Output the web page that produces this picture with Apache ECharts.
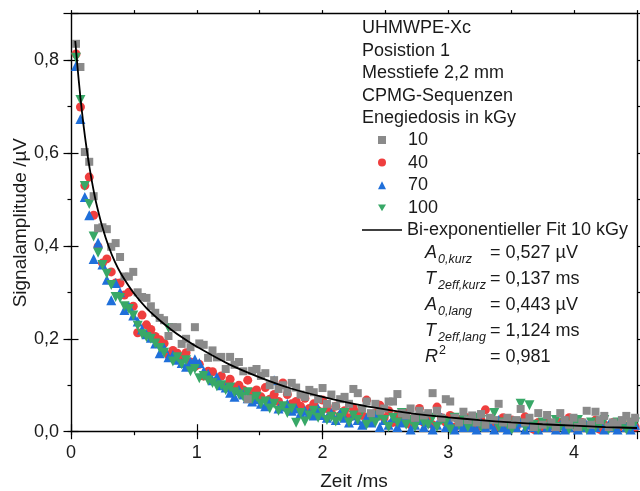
<!DOCTYPE html>
<html lang="de">
<head>
<meta charset="UTF-8">
<title>UHMWPE-Xc CPMG Signalamplitude</title>
<script src="https://cdn.jsdelivr.net/npm/echarts@6/dist/echarts.min.js"></script>
<style>
  html, body { margin: 0; padding: 0; background: #fff; }
  #main { width: 640px; height: 491px; }
</style>
</head>
<body>
<div id="main"></div>
<script>
// Echozeiten /ms (gemeinsam fuer alle Proben)
const zeit = [
  0.04, 0.075, 0.11, 0.145, 0.18, 0.215, 0.25, 0.285, 0.32, 0.355,
  0.39, 0.425, 0.46, 0.495, 0.53, 0.565, 0.6, 0.635, 0.67, 0.705,
  0.74, 0.775, 0.81, 0.845, 0.88, 0.915, 0.95, 0.985, 1.02, 1.055,
  1.09, 1.125, 1.16, 1.195, 1.23, 1.265, 1.3, 1.335, 1.37, 1.405,
  1.44, 1.475, 1.51, 1.545, 1.58, 1.615, 1.65, 1.685, 1.72, 1.755,
  1.79, 1.825, 1.86, 1.895, 1.93, 1.965, 2.0, 2.035, 2.07, 2.105,
  2.14, 2.175, 2.21, 2.245, 2.28, 2.315, 2.35, 2.385, 2.42, 2.455,
  2.49, 2.525, 2.56, 2.595, 2.63, 2.665, 2.7, 2.735, 2.77, 2.805,
  2.84, 2.875, 2.91, 2.945, 2.98, 3.015, 3.05, 3.085, 3.12, 3.155,
  3.19, 3.225, 3.26, 3.295, 3.33, 3.365, 3.4, 3.435, 3.47, 3.505,
  3.54, 3.575, 3.61, 3.645, 3.68, 3.715, 3.75, 3.785, 3.82, 3.855,
  3.89, 3.925, 3.96, 3.995, 4.03, 4.065, 4.1, 4.135, 4.17, 4.205,
  4.24, 4.275, 4.31, 4.345, 4.38, 4.415, 4.45, 4.485
];

// Signalamplitude /µV je Energiedosis
const dosis10 = [
  0.835, 0.785, 0.602, 0.581, 0.507, 0.438, 0.440, 0.436, 0.398, 0.406,
  0.376, 0.334, 0.334, 0.344, 0.300, 0.290, 0.288, 0.270, 0.256, 0.245,
  0.240, 0.206, 0.225, 0.225, 0.189, 0.200, 0.182, 0.225, 0.190, 0.187,
  0.159, 0.175, 0.160, 0.161, 0.135, 0.161, 0.144, 0.150, 0.130, 0.070,
  0.131, 0.135, 0.120, 0.126, 0.100, 0.111, 0.092, 0.100, 0.085, 0.105,
  0.095, 0.080, 0.075, 0.090, 0.085, 0.070, 0.094, 0.060, 0.080, 0.055,
  0.070, 0.075, 0.060, 0.092, 0.083, 0.050, 0.065, 0.040, 0.060, 0.045,
  0.050, 0.065, 0.065, 0.081, 0.040, 0.035, 0.050, 0.030, 0.045, 0.035,
  0.040, 0.083, 0.045, 0.030, 0.070, 0.065, 0.030, 0.020, 0.043, 0.025,
  0.035, 0.020, 0.038, 0.015, 0.030, 0.025, 0.060, 0.020, 0.030, 0.015,
  0.025, 0.049, 0.020, 0.030, 0.010, 0.040, 0.015, 0.036, 0.020, 0.010,
  0.040, 0.025, 0.015, 0.030, 0.010, 0.020, 0.045, 0.015, 0.043, 0.025,
  0.034, 0.010, 0.020, 0.015, 0.025, 0.034, 0.020, 0.030
];
const dosis40 = [
  0.813, 0.699, 0.530, 0.548, 0.466, 0.398, 0.363, 0.372, 0.344, 0.320,
  0.320, 0.294, 0.300, 0.270, 0.213, 0.251, 0.230, 0.220, 0.205, 0.198,
  0.190, 0.165, 0.175, 0.169, 0.160, 0.170, 0.150, 0.140, 0.145, 0.120,
  0.130, 0.129, 0.110, 0.120, 0.100, 0.113, 0.095, 0.100, 0.090, 0.111,
  0.085, 0.090, 0.075, 0.095, 0.070, 0.080, 0.065, 0.105, 0.080, 0.060,
  0.065, 0.055, 0.072, 0.050, 0.060, 0.045, 0.068, 0.050, 0.040, 0.055,
  0.035, 0.045, 0.030, 0.050, 0.040, 0.035, 0.068, 0.025, 0.040, 0.057,
  0.030, 0.045, 0.020, 0.035, 0.025, 0.040, 0.015, 0.030, 0.050, 0.020,
  0.025, 0.015, 0.053, 0.030, 0.020, 0.035, 0.010, 0.025, 0.015, 0.030,
  0.020, 0.010, 0.025, 0.047, 0.015, 0.020, 0.010, 0.030, 0.015, 0.025,
  0.010, 0.020, 0.032, 0.015, 0.005, 0.020, 0.010, 0.025, 0.015, 0.005,
  0.020, 0.010, 0.030, 0.015, 0.005, 0.020, 0.010, 0.015, 0.025, 0.005,
  0.015, 0.010, 0.020, 0.005, 0.015, 0.010, 0.020, 0.010
];
const dosis70 = [
  0.787, 0.673, 0.505, 0.466, 0.372, 0.407, 0.360, 0.327, 0.283, 0.320,
  0.300, 0.262, 0.270, 0.250, 0.237, 0.220, 0.210, 0.202, 0.190, 0.169,
  0.180, 0.160, 0.165, 0.155, 0.148, 0.140, 0.150, 0.156, 0.148, 0.130,
  0.125, 0.111, 0.118, 0.100, 0.095, 0.084, 0.075, 0.090, 0.080, 0.072,
  0.065, 0.070, 0.060, 0.055, 0.065, 0.111, 0.050, 0.054, 0.060, 0.045,
  0.050, 0.040, 0.045, 0.041, 0.035, 0.050, 0.036, 0.030, 0.040, 0.025,
  0.041, 0.030, 0.020, 0.035, 0.025, 0.015, 0.030, 0.020, 0.035, 0.010,
  0.025, 0.015, 0.030, 0.010, 0.020, 0.035, 0.005, 0.015, 0.025, 0.010,
  0.020, 0.005, 0.015, 0.030, 0.010, 0.020, 0.005, 0.015, 0.010, 0.025,
  0.010, 0.005, 0.020, 0.010, 0.015, 0.005, 0.025, 0.010, 0.005, 0.015,
  0.010, 0.020, 0.005, 0.015, 0.010, 0.005, 0.020, 0.010, 0.015, 0.005,
  0.015, 0.005, 0.010, 0.020, 0.005, 0.010, 0.015, 0.005, 0.010, 0.020,
  0.005, 0.015, 0.010, 0.005, 0.020, 0.010, 0.005, 0.015
];
const dosis100 = [
  0.805, 0.714, 0.529, 0.490, 0.420, 0.385, 0.359, 0.340, 0.316, 0.290,
  0.288, 0.270, 0.264, 0.250, 0.228, 0.210, 0.204, 0.200, 0.190, 0.180,
  0.170, 0.223, 0.151, 0.160, 0.145, 0.154, 0.130, 0.135, 0.115, 0.120,
  0.110, 0.105, 0.098, 0.100, 0.090, 0.095, 0.085, 0.080, 0.075, 0.085,
  0.070, 0.075, 0.060, 0.065, 0.050, 0.060, 0.045, 0.055, 0.040, 0.050,
  0.019, 0.040, 0.022, 0.035, 0.045, 0.030, 0.040, 0.025, 0.032, 0.022,
  0.030, 0.040, 0.020, 0.035, 0.025, 0.045, 0.015, 0.030, 0.020, 0.035,
  0.025, 0.010, 0.030, 0.020, 0.040, 0.015, 0.025, 0.010, 0.030, 0.020,
  0.015, 0.030, 0.010, 0.025, 0.020, 0.005, 0.030, 0.015, 0.025, 0.010,
  0.020, 0.030, 0.010, 0.015, 0.025, 0.040, 0.010, 0.020, 0.015, 0.005,
  0.020, 0.060, 0.010, 0.057, 0.015, 0.005, 0.020, 0.010, 0.015, 0.025,
  0.010, 0.020, 0.005, 0.015, 0.025, 0.010, 0.005, 0.020, 0.010, 0.015,
  0.025, 0.005, 0.010, 0.020, 0.015, 0.005, 0.010, 0.020
];

// Fit-Kurve (10 kGy): [Zeit /ms, Amplitude /µV]
const fitKurve = [
  [0.034, 0.841], [0.05, 0.790], [0.075, 0.719], [0.1, 0.659], [0.125, 0.608],
  [0.15, 0.564], [0.175, 0.526], [0.2, 0.493], [0.25, 0.440], [0.3, 0.398],
  [0.35, 0.365], [0.4, 0.339], [0.5, 0.298], [0.6, 0.266], [0.7, 0.241],
  [0.8, 0.219], [0.9, 0.200], [1.0, 0.183], [1.25, 0.146], [1.5, 0.117],
  [1.75, 0.093], [2.0, 0.075], [2.25, 0.060], [2.5, 0.048], [2.75, 0.038],
  [3.0, 0.031], [3.25, 0.025], [3.5, 0.020], [3.75, 0.016], [4.0, 0.013],
  [4.25, 0.010], [4.5, 0.008]
];

const infoZeilen = ['UHMWPE-Xc', 'Posistion 1', 'Messtiefe 2,2 mm', 'CPMG-Sequenzen', 'Enegiedosis in kGy'];
const fitParameter = [
  { sym: 'A', sub: '0,kurz', wert: '= 0,527 µV' },
  { sym: 'T', sub: '2eff,kurz', wert: '= 0,137 ms' },
  { sym: 'A', sub: '0,lang', wert: '= 0,443 µV' },
  { sym: 'T', sub: '2eff,lang', wert: '= 1,124 ms' },
  { sym: 'R', sup: '2', wert: '= 0,981' }
];

const FONT = '"Liberation Sans", Arial, sans-serif';
const TEXT = '#1a1a1a';
const FARBE = { d10: '#8a8a8a', d40: '#ef3e3e', d70: '#1f6fda', d100: '#38a867' };
const chart = echarts.init(document.getElementById('main'));

function punkte(werte) {
  return zeit.map((t, i) => [t, werte[i]]);
}
function punktSerie(name, werte, symbol, size, color, rotate) {
  return {
    name: name, type: 'scatter', data: punkte(werte),
    symbol: symbol, symbolSize: size, symbolRotate: rotate || 0,
    itemStyle: { color: color, opacity: 1 },
    silent: true
  };
}

// Achsen: Haupt- und Nebenstriche als getrennte Achsen (gleiche Skala)
function xAchse(pos, interval, len, extra) {
  return Object.assign({
    type: 'value', position: pos, min: 0, max: 4.5, interval: interval,
    splitLine: { show: false },
    axisLine: { show: false },
    axisTick: { show: true, inside: false, length: len, lineStyle: { color: '#000', width: 1.2 } },
    axisLabel: { show: false }
  }, extra || {});
}
function yAchse(pos, interval, len, extra) {
  return Object.assign({
    type: 'value', position: pos, min: 0, max: 0.9, interval: interval,
    splitLine: { show: false },
    axisLine: { show: false },
    axisTick: { show: true, inside: false, length: len, lineStyle: { color: '#000', width: 1.2 } },
    axisLabel: { show: false }
  }, extra || {});
}

const achsLinie = { show: true, onZero: false, lineStyle: { color: '#000', width: 1.4 } };

const grafik = [];
infoZeilen.forEach((z, i) => {
  grafik.push({ type: 'text', x: 362, y: 28 + i * 22.6,
    style: { text: z, font: '18px ' + FONT, fill: TEXT, verticalAlign: 'middle' } });
});
fitParameter.forEach((p, i) => {
  const y = 253 + i * 26;
  grafik.push({ type: 'text', x: 425, y: y,
    style: { text: p.sym, font: 'italic 18px ' + FONT, fill: TEXT, verticalAlign: 'middle' } });
  if (p.sub) {
    grafik.push({ type: 'text', x: 438, y: y + 7,
      style: { text: p.sub, font: 'italic 12.5px ' + FONT, fill: TEXT, verticalAlign: 'middle' } });
  }
  if (p.sup) {
    grafik.push({ type: 'text', x: 439, y: y - 6,
      style: { text: p.sup, font: '12.5px ' + FONT, fill: TEXT, verticalAlign: 'middle' } });
  }
  grafik.push({ type: 'text', x: 490, y: y,
    style: { text: p.wert, font: '18px ' + FONT, fill: TEXT, verticalAlign: 'middle' } });
});

const legendText = { fontSize: 18, color: TEXT, fontFamily: FONT, lineHeight: 20 };

const option = {
  animation: false,
  backgroundColor: '#fff',
  textStyle: { fontFamily: FONT },
  grid: { left: 71, right: 3, top: 13.6, bottom: 59.3, containLabel: false, outerBoundsMode: 'none' },
  legend: [
    {
      orient: 'vertical', left: 378, top: 130, padding: 0,
      itemWidth: 8, itemHeight: 8, itemGap: 2.6, symbolKeepAspect: true,
      selectedMode: false,
      textStyle: Object.assign({ padding: [0, 0, 0, 17] }, legendText),
      data: [
        { name: '10', icon: 'rect', itemStyle: { color: FARBE.d10 } },
        { name: '40', icon: 'circle', itemStyle: { color: FARBE.d40 } },
        { name: '70', icon: 'triangle', itemStyle: { color: FARBE.d70 } },
        { name: '100', icon: 'path://M0,0 L10,0 L5,8.5 Z', itemStyle: { color: FARBE.d100 } }
      ]
    },
    {
      orient: 'vertical', left: 362, top: 220, padding: 0,
      itemWidth: 40, itemHeight: 1.6, symbolKeepAspect: false,
      selectedMode: false,
      textStyle: legendText,
      data: [{ name: 'Bi-exponentieller Fit 10 kGy', icon: 'rect', itemStyle: { color: '#000' } }]
    }
  ],
  xAxis: [
    xAchse('bottom', 0.5, 3.5, {
      axisLine: achsLinie,
      axisLabel: { show: true, margin: 12, fontSize: 18, color: TEXT, fontFamily: FONT, showMaxLabel: false,
        formatter: v => (Math.abs(v - Math.round(v)) < 1e-6 ? String(Math.round(v)) : '') },
      name: 'Zeit /ms', nameLocation: 'middle', nameGap: 41, nameMoveOverlap: false,
      nameTextStyle: { fontSize: 19, color: TEXT, fontFamily: FONT }
    }),
    xAchse('bottom', 1, 7.5),
    xAchse('top', 0.5, 3.5, { axisLine: achsLinie }),
    xAchse('top', 1, 7.5)
  ],
  yAxis: [
    yAchse('left', 0.1, 3.5, {
      axisLine: achsLinie,
      axisLabel: { show: true, margin: 12, fontSize: 18, color: TEXT, fontFamily: FONT, showMaxLabel: false,
        formatter: v => (Math.round(v * 10) % 2 === 0 ? v.toFixed(1).replace('.', ',') : '') },
      name: 'Signalamplitude /µV', nameLocation: 'middle', nameGap: 41, nameMoveOverlap: false,
      nameTextStyle: { fontSize: 19, color: TEXT, fontFamily: FONT }
    }),
    yAchse('left', 0.2, 7.5),
    yAchse('right', 0.1, 3.5, { axisLine: achsLinie }),
    yAchse('right', 0.2, 7.5)
  ],
  series: [
    punktSerie('40', dosis40, 'circle', 9, FARBE.d40),
    punktSerie('70', dosis70, 'triangle', 10, FARBE.d70),
    punktSerie('100', dosis100, 'triangle', 10, FARBE.d100, 180),
    punktSerie('10', dosis10, 'rect', 8, FARBE.d10),
    {
      name: 'Bi-exponentieller Fit 10 kGy', type: 'line', data: fitKurve,
      smooth: 0.3, symbol: 'none', silent: true,
      lineStyle: { color: '#000', width: 1.8 },
      itemStyle: { color: '#000' }
    }
  ],
  graphic: grafik
};
chart.setOption(option);
</script>
</body>
</html>
